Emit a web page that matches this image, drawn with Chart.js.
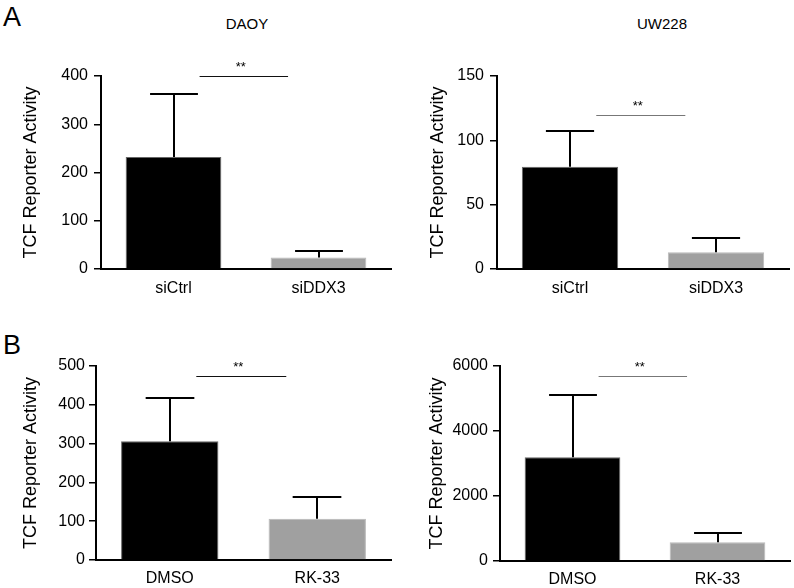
<!DOCTYPE html>
<html>
<head>
<meta charset="utf-8">
<script src="https://cdn.jsdelivr.net/npm/chart.js@4.4.1/dist/chart.umd.min.js"></script>
<style>
  body { margin: 0; background: #fff; font-family: "Liberation Sans", Arial, Helvetica, sans-serif; }
  #wrap { position: relative; width: 794px; height: 588px; overflow: hidden; }
  canvas { position: absolute; }
  .lbl { position: absolute; color: #000; white-space: nowrap; }
  .panel { font-size: 27px; }
  .cell { font-size: 15px; transform: translateX(-50%); }
</style>
</head>
<body>
<div id="wrap">
  <div class="lbl panel" style="left:3px; top:2px;">A</div>
  <div class="lbl panel" style="left:3px; top:330px;">B</div>
  <div class="lbl cell" style="left:247px; top:15px;">DAOY</div>
  <div class="lbl cell" style="left:662px; top:15px;">UW228</div>
  <canvas id="c1" width="397" height="294" style="left:0; top:0;"></canvas>
  <canvas id="c2" width="397" height="294" style="left:397px; top:0;"></canvas>
  <canvas id="c3" width="397" height="294" style="left:0; top:294px;"></canvas>
  <canvas id="c4" width="397" height="294" style="left:397px; top:294px;"></canvas>
</div>
<script>
// categories
const siLabels = ["siCtrl", "siDDX3"];
const drugLabels = ["DMSO", "RK-33"];

// means and upper error (SD)
const daoySiMeans = [232, 24];
const daoySiErr = [131, 14];
const uwSiMeans = [79.5, 13];
const uwSiErr = [28, 11];
const daoyDrugMeans = [306, 106];
const daoyDrugErr = [111, 57];
const uwDrugMeans = [3190, 577];
const uwDrugErr = [1927, 288];

// y axis ranges and the height of the significance line
const yMax = [400, 150, 500, 6000];
const yStep = [100, 50, 100, 2000];
const sigLevel = [400, 120, 475, 5700];

const barColors = ["#000000", "#a0a0a0"];
const edgeColors = ["#666666", "#b8b8b8"];

Chart.defaults.font.family = '"Liberation Sans", Arial, Helvetica, sans-serif';
Chart.defaults.color = "#000";

// error bars (upward only) + significance line with stars
const extras = {
  id: "extras",
  afterDatasetsDraw(chart, args, opts) {
    const ctx = chart.ctx;
    const meta = chart.getDatasetMeta(0);
    const y = chart.scales.y;
    const x = chart.scales.x;
    ctx.save();
    ctx.strokeStyle = "#000";
    ctx.lineWidth = 2;
    meta.data.forEach((bar, i) => {
      const top = Math.round(y.getPixelForValue(opts.means[i] + opts.err[i]));
      const half = bar.width / 4;
      const cx = Math.round(bar.x);
      ctx.beginPath();
      ctx.moveTo(cx, bar.y);
      ctx.lineTo(cx, top);
      ctx.moveTo(cx - half, top);
      ctx.lineTo(cx + half, top);
      ctx.stroke();
    });
    const ly = Math.round(y.getPixelForValue(opts.sig)) + 0.5;
    const x0 = x.getPixelForValue(0.18);
    const x1 = x.getPixelForValue(0.79);
    ctx.strokeStyle = opts.sigColor;
    ctx.lineWidth = 1;
    ctx.beginPath();
    ctx.moveTo(x0, ly);
    ctx.lineTo(x1, ly);
    ctx.stroke();
    ctx.fillStyle = "#000";
    ctx.font = '13px "Liberation Sans", Arial, sans-serif';
    ctx.textAlign = "center";
    ctx.textBaseline = "alphabetic";
    ctx.fillText("**", (x0 + x1) / 2 - 3, ly - 6);
    ctx.restore();
  }
};

function makeChart(id, labels, means, err, k, lay) {
  return new Chart(document.getElementById(id), {
    type: "bar",
    data: {
      labels: labels,
      datasets: [{
        data: means,
        backgroundColor: barColors,
        borderColor: edgeColors,
        borderWidth: 1,
        categoryPercentage: 1,
        barPercentage: 0.66
      }]
    },
    options: {
      responsive: false,
      animation: false,
      devicePixelRatio: 1,
      layout: { padding: { left: 0, top: lay.top, right: lay.right, bottom: 0 } },
      plugins: {
        legend: { display: false },
        tooltip: { enabled: false },
        extras: { means: means, err: err, sig: sigLevel[k], sigColor: lay.sigColor }
      },
      scales: {
        x: {
          grid: { display: false, drawTicks: false },
          border: { display: true, color: "#000", width: 2 },
          ticks: { font: { size: 16 }, padding: lay.xp, color: "#000" },
          afterFit: (s) => { s.height = lay.xh; }
        },
        y: {
          min: 0,
          max: yMax[k],
          ticks: {
            stepSize: yStep[k],
            font: { size: 16 },
            padding: lay.tp,
            color: "#000",
            callback: (v) => String(v)
          },
          grid: { drawOnChartArea: false, drawTicks: true, tickLength: 7, color: "#000", lineWidth: 1.5 },
          border: { display: true, color: "#000", width: 2 },
          title: {
            display: true,
            text: "TCF Reporter Activity",
            font: { size: 18 },
            color: "#000",
            padding: { top: lay.titlePad, bottom: 0 }
          },
          afterFit: (s) => { s.width = lay.yw; }
        }
      }
    },
    plugins: [extras]
  });
}

window.onload = () => {
  makeChart("c1", siLabels, daoySiMeans, daoySiErr, 0,
    { top: 76, right: 6, xh: 25, yw: 101, tp: 6, xp: 10, titlePad: 20, sigColor: "#111" });
  makeChart("c2", siLabels, uwSiMeans, uwSiErr, 1,
    { top: 76, right: 5, xh: 25, yw: 100, tp: 6, xp: 10, titlePad: 30, sigColor: "#777" });
  makeChart("c3", drugLabels, daoyDrugMeans, daoyDrugErr, 2,
    { top: 72, right: 6, xh: 28, yw: 96, tp: 4, xp: 9, titlePad: 20, sigColor: "#111" });
  makeChart("c4", drugLabels, uwDrugMeans, uwDrugErr, 3,
    { top: 72, right: 4, xh: 27, yw: 103, tp: 5, xp: 9, titlePad: 29, sigColor: "#777" });
};
</script>
</body>
</html>
